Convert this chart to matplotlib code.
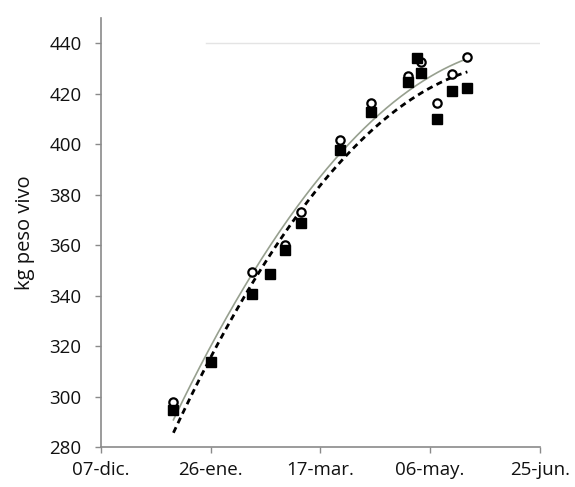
import numpy as np
import matplotlib
matplotlib.use("Agg")
import matplotlib.pyplot as plt
import matplotlib.dates as mdates

plt.rcParams['font.family'] = ['Open Sans', 'DejaVu Sans']

# Data
circle_dates = ["2013-01-09", "2013-01-26", "2013-02-14", "2013-03-01", "2013-03-08",
                "2013-03-26", "2013-04-09", "2013-04-26", "2013-05-02", "2013-05-09",
                "2013-05-16", "2013-05-23"]
circle_vals = [297.8, 313.7, 349.3, 360.0, 373.1, 401.6, 416.2, 427.0, 432.5, 416.2,
               427.7, 434.5]
square_dates = ["2013-01-09", "2013-01-26", "2013-02-14", "2013-02-22", "2013-03-01",
                "2013-03-08", "2013-03-26", "2013-04-09", "2013-04-26", "2013-04-30",
                "2013-05-02", "2013-05-09", "2013-05-16", "2013-05-23"]
square_vals = [294.7, 313.7, 340.6, 348.5, 358.0, 368.7, 397.6, 412.7, 424.6, 434.0,
               428.1, 410.0, 421.0, 422.2]
xtick_dates = ["2012-12-07", "2013-01-26", "2013-03-17", "2013-05-06", "2013-06-25"]
xtick_labels = ["07-dic.", "26-ene.", "17-mar.", "06-may.", "25-jun."]
yticks = [280, 300, 320, 340, 360, 380, 400, 420, 440]

cx = mdates.datestr2num(circle_dates)
sx = mdates.datestr2num(square_dates)
tx = mdates.datestr2num(xtick_dates)

fig = plt.figure(figsize=(5.75, 4.87), dpi=100)
ax = fig.add_axes([0.1757, 0.082, 0.763, 0.881])

# Trend lines (2nd order polynomial fits, as in spreadsheet trendlines)
pc = np.polyfit(cx - cx[0], circle_vals, 2)
ps = np.polyfit(sx - sx[0], square_vals, 2)
xx = np.linspace(cx[0], cx[-1], 200)
ax.plot(xx, np.polyval(pc, xx - cx[0]), color='#97a08f', lw=1.2, zorder=2)
ax.plot(xx, np.polyval(ps, xx - sx[0]), color='black', lw=2.0,
        dashes=(2.2, 1.6), zorder=3)

ax.plot(cx, circle_vals, linestyle='none', marker='o', ms=6, mfc='white',
        mec='black', mew=1.6, zorder=4)
ax.plot(sx, square_vals, linestyle='none', marker='s', ms=6.5, mfc='black',
        mec='black', zorder=5)

ax.axhline(440, xmin=0.24, xmax=1.0, color='#e4e4e4', lw=1.0, zorder=1)

ax.set_xlim(tx[0], tx[-1])
ax.set_ylim(280, 450)
ax.set_xticks(tx)
ax.set_xticklabels(xtick_labels)
ax.set_yticks(yticks)
ax.set_ylabel("kg peso vivo", fontsize=14.5, color='#111111')
ax.yaxis.set_label_coords(-0.15, 0.5)

for s in ['top', 'right']:
    ax.spines[s].set_visible(False)
for s in ['left', 'bottom']:
    ax.spines[s].set_color('#8a8a8a')
    ax.spines[s].set_linewidth(1.2)
ax.tick_params(axis='both', colors='#8a8a8a', length=4, width=1.0,
               labelsize=13.5, labelcolor='#111111', direction='out')
ax.tick_params(axis='x', pad=6)
ax.tick_params(axis='y', pad=10)

fig.savefig("out.png", dpi=100)
